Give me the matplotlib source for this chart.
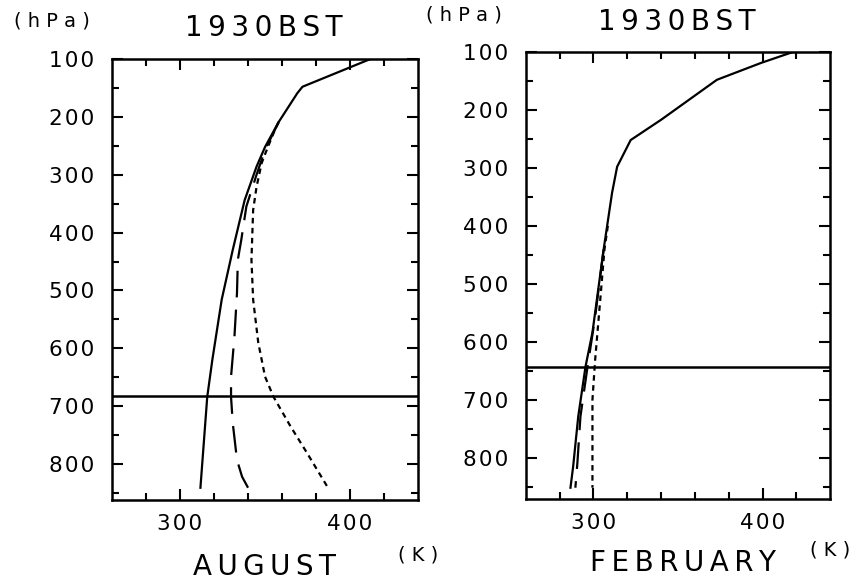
import numpy as np
import matplotlib
matplotlib.use("Agg")
import matplotlib.pyplot as plt
from matplotlib.ticker import FixedLocator, FixedFormatter

# August, 1930BST (pressure hPa, temperature K)
aug_solid_p = [100, 148, 159, 209, 252, 286, 344, 430, 516, 620, 684, 841]
aug_solid_t = [412, 372, 369, 358, 350, 345, 338, 331, 324.5, 319, 316, 312]
aug_dash_p = [209, 257, 300, 355, 413, 447, 504, 580, 649, 684, 729, 793, 822, 841]
aug_dash_t = [358, 350, 345, 339, 336, 334, 333.5, 332, 330, 330, 331, 333.5, 336.5, 340]
aug_dot_p = [209, 228, 257, 280, 321, 361, 447, 516, 590, 649, 684, 735, 780, 841]
aug_dot_t = [358, 355, 351, 348, 345, 343, 342, 343, 346, 350, 355, 365, 374.5, 387]
aug_level = 682

# February, 1930BST
feb_solid_p = [100, 119, 148, 217, 252, 298, 343, 441, 584, 643, 729, 815, 852]
feb_solid_t = [418, 399, 373, 340, 322, 314, 311, 306, 299.4, 295.3, 291, 288, 286.4]
feb_dash_p = [441, 557, 643, 729, 809, 852]
feb_dash_t = [306, 301, 296.5, 292.3, 290.5, 289.3]
feb_dot_p = [400, 441, 528, 631, 700, 852]
feb_dot_t = [308.5, 306.5, 304, 301, 299.4, 299.4]
feb_level = 643

p_major = [100, 200, 300, 400, 500, 600, 700, 800]
p_minor = [150, 250, 350, 450, 550, 650, 750, 850]
t_major = [300, 400]
t_minor = [280, 320, 340, 360, 380, 420]


def sp(s, gap="\u2009"):
    # spread letters like the old plotter font
    return gap.join(list(s))


plt.rcParams['font.family'] = ['DejaVu Sans']
fig = plt.figure(figsize=(8.55, 5.84), dpi=100)
ax1 = fig.add_axes([0.131, 0.144, 0.358, 0.755])
ax2 = fig.add_axes([0.615, 0.146, 0.356, 0.765])


def style(ax, ybottom):
    ax.set_xlim(260, 440)
    ax.set_ylim(ybottom, 100)
    ax.yaxis.set_major_locator(FixedLocator(p_major))
    ax.yaxis.set_major_formatter(FixedFormatter([sp(str(v), "\u200a") for v in p_major]))
    ax.yaxis.set_minor_locator(FixedLocator(p_minor))
    ax.xaxis.set_major_locator(FixedLocator(t_major))
    ax.xaxis.set_major_formatter(FixedFormatter([sp(str(v), "\u200a") for v in t_major]))
    ax.xaxis.set_minor_locator(FixedLocator(t_minor))
    ax.tick_params(which='both', direction='in', top=True, right=True, width=1.5, labelsize=15.5)
    ax.tick_params(which='major', length=8)
    ax.tick_params(which='minor', length=5)
    ax.tick_params(axis='y', which='major', pad=13)
    ax.tick_params(axis='x', which='major', pad=10)
    for s in ax.spines.values():
        s.set_linewidth(1.8)


lw = 1.6
ax1.plot(aug_solid_t, aug_solid_p, color='black', lw=lw)
ax1.plot(aug_dash_t, aug_dash_p, color='black', lw=lw, dashes=(12, 5.5))
ax1.plot(aug_dot_t, aug_dot_p, color='black', lw=lw, dashes=(2.5, 2))
ax1.axhline(aug_level, color='black', lw=1.8)
style(ax1, 862)

ax2.plot(feb_solid_t, feb_solid_p, color='black', lw=lw)
ax2.plot(feb_dash_t, feb_dash_p, color='black', lw=lw, dashes=(12, 5.5))
ax2.plot(feb_dot_t, feb_dot_p, color='black', lw=lw, dashes=(2.5, 2))
ax2.axhline(feb_level, color='black', lw=1.8)
style(ax2, 871)

fig.text(0.061, 0.964, sp("(hPa)", " "), fontsize=14, ha='center', va='center')
fig.text(0.543, 0.974, sp("(hPa)", " "), fontsize=14, ha='center', va='center')
fig.text(0.309, 0.952, sp("1930BST"), fontsize=20, ha='center', va='center')
fig.text(0.791, 0.962, sp("1930BST"), fontsize=20, ha='center', va='center')
fig.text(0.309, 0.029, sp("AUGUST"), fontsize=20, ha='center', va='center')
fig.text(0.489, 0.050, sp("(K)", " "), fontsize=14, ha='center', va='center')
fig.text(0.799, 0.036, sp("FEBRUARY"), fontsize=20, ha='center', va='center')
fig.text(0.971, 0.058, sp("(K)", " "), fontsize=14, ha='center', va='center')

fig.savefig("out.png", dpi=100)
